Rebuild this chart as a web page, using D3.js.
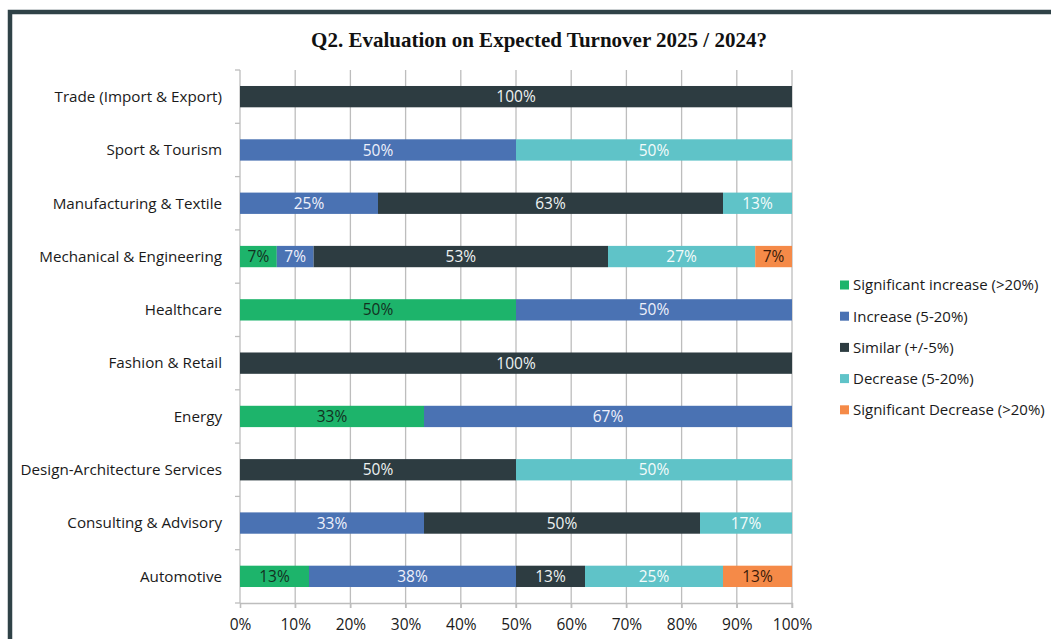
<!DOCTYPE html>
<html>
<head>
<meta charset="utf-8">
<script src="https://cdn.jsdelivr.net/npm/d3@7"></script>
<style>
  html, body { margin: 0; padding: 0; background: #fff; }
  svg { display: block; }
</style>
</head>
<body>
<svg id="chart" width="1051" height="639"></svg>
<script>
// Sectors, top to bottom
const categories = [
  "Trade (Import & Export)",
  "Sport & Tourism",
  "Manufacturing & Textile",
  "Mechanical & Engineering",
  "Healthcare",
  "Fashion & Retail",
  "Energy",
  "Design-Architecture Services",
  "Consulting & Advisory",
  "Automotive"
];

const seriesNames = [
  "Significant increase (>20%)",
  "Increase (5-20%)",
  "Similar (+/-5%)",
  "Decrease (5-20%)",
  "Significant Decrease (>20%)"
];

// Share of answers per sector (percent), one array per answer option
const sigIncrease = [0, 0, 0, 6.667, 50, 0, 33.333, 0, 0, 12.5];
const increase    = [0, 50, 25, 6.667, 50, 0, 66.667, 0, 33.333, 37.5];
const similar     = [100, 0, 62.5, 53.333, 0, 100, 0, 50, 50, 12.5];
const decrease    = [0, 50, 12.5, 26.667, 0, 0, 0, 50, 16.667, 25];
const sigDecrease = [0, 0, 0, 6.667, 0, 0, 0, 0, 0, 12.5];

const xTicks = [0, 10, 20, 30, 40, 50, 60, 70, 80, 90, 100];

const colors = ["#1db46b", "#4a72b3", "#2d3c41", "#5fc3c8", "#f58a48"];
const labelColors = ["#13301f", "#eef0fb", "#eef2f2", "#f4fbfb", "#3a1a08"];

const seriesValues = [sigIncrease, increase, similar, decrease, sigDecrease];

const FONT = "'Open Sans', Lato, sans-serif";

const svg = d3.select("#chart");
const W = 1051, H = 639;

// Dark frame around the chart
svg.append("rect")
  .attr("x", 10).attr("y", 12)
  .attr("width", W + 20).attr("height", H + 20)
  .attr("fill", "#fff")
  .attr("stroke", "#2f4247")
  .attr("stroke-width", 4.5);

const plotLeft = 240, plotRight = 792, plotTop = 70, plotBottom = 603;

const x = d3.scaleLinear().domain([0, 100]).range([plotLeft, plotRight]);
const y = d3.scaleBand().domain(categories).range([plotTop, plotBottom])
  .paddingInner(0.6).paddingOuter(0.3);

// Title
svg.append("text")
  .attr("x", 539).attr("y", 47)
  .attr("text-anchor", "middle")
  .attr("font-family", "'Liberation Serif', 'Times New Roman', serif")
  .attr("font-weight", "bold")
  .attr("font-size", 21)
  .attr("fill", "#111")
  .text("Q2. Evaluation on Expected Turnover 2025 / 2024?");

// Vertical gridlines
svg.append("g").selectAll("line")
  .data(xTicks.slice(1))
  .join("line")
  .attr("x1", d => x(d)).attr("x2", d => x(d))
  .attr("y1", plotTop).attr("y2", plotBottom + 5)
  .attr("stroke", "#bdbdbd").attr("stroke-width", 1.3);

// Bottom axis
const xAxis = d3.axisBottom(x)
  .tickValues(xTicks)
  .tickFormat(d => d + "%")
  .tickSize(5)
  .tickPadding(11);

const gx = svg.append("g")
  .attr("transform", `translate(0,${plotBottom})`)
  .call(xAxis);
gx.select(".domain").attr("stroke", "#bdbdbd").attr("stroke-width", 1.3);
gx.selectAll(".tick line").attr("stroke", "#bdbdbd").attr("stroke-width", 1.3);
gx.selectAll(".tick text")
  .attr("font-family", FONT)
  .attr("font-size", 15.5)
  .attr("fill", "#1a1a1a");

// Left axis line with ticks at band boundaries
const gy = svg.append("g");
gy.append("line")
  .attr("x1", plotLeft).attr("x2", plotLeft)
  .attr("y1", plotTop).attr("y2", plotBottom)
  .attr("stroke", "#bdbdbd").attr("stroke-width", 1.3);
const boundaries = d3.range(categories.length + 1)
  .map(i => plotTop + i * y.step());
gy.selectAll("line.tk")
  .data(boundaries)
  .join("line")
  .attr("class", "tk")
  .attr("x1", plotLeft - 5).attr("x2", plotLeft)
  .attr("y1", d => d).attr("y2", d => d)
  .attr("stroke", "#bdbdbd").attr("stroke-width", 1.3);

gy.selectAll("text")
  .data(categories)
  .join("text")
  .attr("x", 222)
  .attr("y", d => y(d) + y.bandwidth() / 2)
  .attr("dy", "0.35em")
  .attr("text-anchor", "end")
  .attr("font-family", FONT)
  .attr("font-size", 15.2)
  .attr("fill", "#1a1a1a")
  .text(d => d);

// Stacked bars
const rows = categories.map((c, i) => {
  const r = { category: c };
  seriesNames.forEach((s, k) => { r[s] = seriesValues[k][i]; });
  return r;
});
const stacked = d3.stack().keys(seriesNames)(rows);
const fmt = d => Math.round(d) + "%";

const layers = svg.append("g").selectAll("g")
  .data(stacked)
  .join("g")
  .attr("fill", (d, k) => colors[k]);

layers.selectAll("rect")
  .data(d => d.filter(p => p[1] - p[0] > 0))
  .join("rect")
  .attr("x", p => x(p[0]))
  .attr("y", p => y(p.data.category))
  .attr("width", p => x(p[1]) - x(p[0]))
  .attr("height", y.bandwidth());

layers.each(function(layer, k) {
  d3.select(this).selectAll("text")
    .data(layer.filter(p => p[1] - p[0] > 0))
    .join("text")
    .attr("x", p => (x(p[0]) + x(p[1])) / 2)
    .attr("y", p => y(p.data.category) + y.bandwidth() / 2)
    .attr("dy", "0.36em")
    .attr("text-anchor", "middle")
    .attr("font-family", FONT)
    .attr("font-size", 15.5)
    .attr("fill", labelColors[k])
    .text(p => fmt(p[1] - p[0]));
});

// Legend
const legend = svg.append("g")
  .attr("transform", "translate(840,285)");
const item = legend.selectAll("g")
  .data(seriesNames)
  .join("g")
  .attr("transform", (d, i) => `translate(0,${i * 31.2})`);
item.append("rect")
  .attr("x", 0).attr("y", -4.5)
  .attr("width", 9).attr("height", 9)
  .attr("fill", (d, i) => colors[i]);
item.append("text")
  .attr("x", 13).attr("y", 0)
  .attr("dy", "0.36em")
  .attr("font-family", FONT)
  .attr("font-size", 15)
  .attr("fill", "#1a1a1a")
  .text(d => d);
</script>
</body>
</html>
